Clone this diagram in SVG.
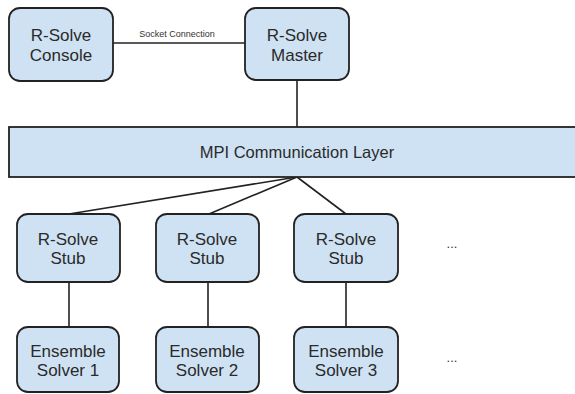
<svg xmlns="http://www.w3.org/2000/svg" width="575" height="394" viewBox="0 0 575 394">
  <style>
    .box { fill: #cfe2f3; stroke: #222; stroke-width: 1.8; }
    .lbl { font-family: "Liberation Sans", Arial, sans-serif; font-size: 17px; fill: #2a2a2a; text-anchor: middle; }
    .layer { font-size: 16.5px; }
    .small { font-family: "Liberation Sans", Arial, sans-serif; font-size: 9px; fill: #333; text-anchor: middle; }
    .dots { font-family: "Liberation Sans", Arial, sans-serif; font-size: 13px; fill: #333; text-anchor: middle; }
    .wire { stroke: #222; stroke-width: 1.6; fill: none; }
  </style>
  <rect width="575" height="394" fill="#ffffff"/>

  <g id="connectors">
    <line class="wire" x1="113" y1="43" x2="245" y2="43"/>
    <line class="wire" x1="297" y1="80" x2="297" y2="127"/>
    <line class="wire" x1="297" y1="177" x2="69" y2="214"/>
    <line class="wire" x1="297" y1="177" x2="209" y2="214"/>
    <line class="wire" x1="297" y1="177" x2="346" y2="214"/>
    <line class="wire" x1="69" y1="282" x2="69" y2="327"/>
    <line class="wire" x1="208" y1="282" x2="208" y2="327"/>
    <line class="wire" x1="346" y1="282" x2="346" y2="327"/>
    <text class="small" x="177" y="37">Socket Connection</text>
  </g>

  <g id="console">
    <rect class="box" x="9" y="8" width="104" height="73" rx="11"/>
    <text class="lbl" x="61" y="41">R-Solve</text>
    <text class="lbl" x="61" y="61">Console</text>
  </g>

  <g id="master">
    <rect class="box" x="245" y="8" width="104" height="72" rx="11"/>
    <text class="lbl" x="297" y="41">R-Solve</text>
    <text class="lbl" x="297" y="61">Master</text>
  </g>

  <g id="mpi">
    <rect class="box" x="9" y="127" width="580" height="50"/>
    <text class="lbl layer" x="297" y="158">MPI Communication Layer</text>
  </g>

  <g id="stub1">
    <rect class="box" x="17" y="214" width="103" height="68" rx="11"/>
    <text class="lbl" x="68" y="245">R-Solve</text>
    <text class="lbl" x="68" y="264">Stub</text>
  </g>
  <g id="stub2">
    <rect class="box" x="156" y="214" width="103" height="68" rx="11"/>
    <text class="lbl" x="207" y="245">R-Solve</text>
    <text class="lbl" x="207" y="264">Stub</text>
  </g>
  <g id="stub3">
    <rect class="box" x="294" y="214" width="104" height="68" rx="11"/>
    <text class="lbl" x="346" y="245">R-Solve</text>
    <text class="lbl" x="346" y="264">Stub</text>
  </g>

  <g id="solver1">
    <rect class="box" x="17" y="327" width="102" height="65" rx="11"/>
    <text class="lbl" x="68" y="357">Ensemble</text>
    <text class="lbl" x="68" y="376">Solver 1</text>
  </g>
  <g id="solver2">
    <rect class="box" x="156" y="327" width="103" height="65" rx="11"/>
    <text class="lbl" x="207" y="357">Ensemble</text>
    <text class="lbl" x="207" y="376">Solver 2</text>
  </g>
  <g id="solver3">
    <rect class="box" x="294" y="327" width="104" height="65" rx="11"/>
    <text class="lbl" x="346" y="357">Ensemble</text>
    <text class="lbl" x="346" y="376">Solver 3</text>
  </g>

  <g id="more-stubs">
    <text class="dots" x="452" y="248">...</text>
  </g>
  <g id="more-solvers">
    <text class="dots" x="452" y="362">...</text>
  </g>
</svg>
